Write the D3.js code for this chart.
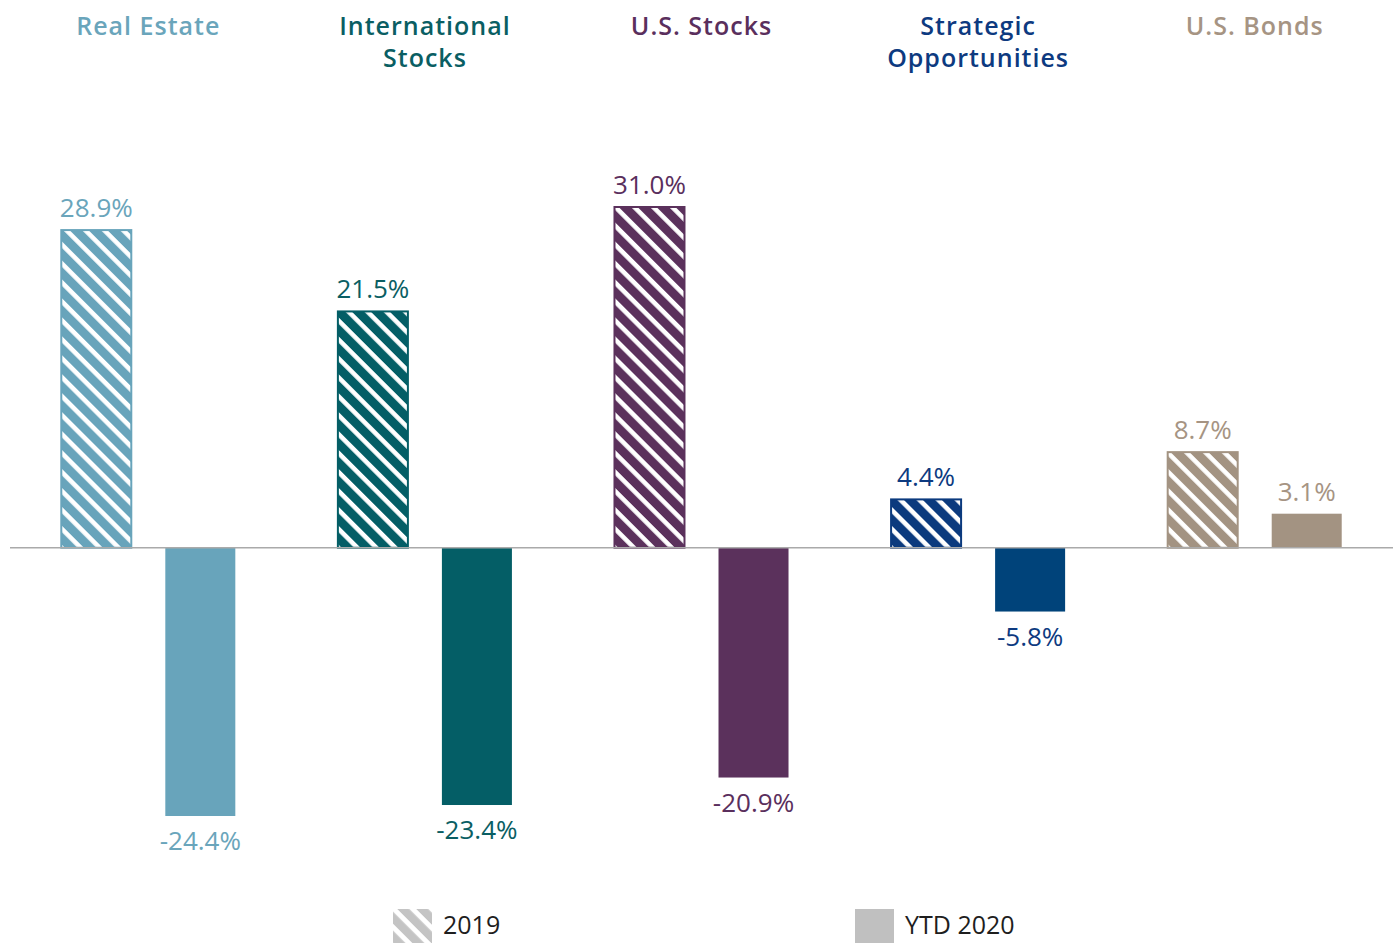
<!DOCTYPE html>
<html>
<head>
<meta charset="utf-8">
<script src="https://cdn.jsdelivr.net/npm/d3@7"></script>
<style>
  html, body { margin: 0; padding: 0; background: #fff; }
  svg { display: block; font-family: "Open Sans", "Noto Sans", sans-serif; }
</style>
</head>
<body>
<div id="chart"></div>
<script>
// Data
const categories = ['Real Estate', 'International Stocks', 'U.S. Stocks', 'Strategic Opportunities', 'U.S. Bonds'];
const titleLines = [['Real Estate'], ['International', 'Stocks'], ['U.S. Stocks'], ['Strategic', 'Opportunities'], ['U.S. Bonds']];
const values2019 = [28.9, 21.5, 31.0, 4.4, 8.7];
const valuesYTD2020 = [-24.4, -23.4, -20.9, -5.8, 3.1];
const seriesNames = ['2019', 'YTD 2020'];
const barColors = ['#68a4bb', '#045e66', '#5b315c', '#0b3a7e', '#a39382'];
const ytdColors = ['#68a4bb', '#045e66', '#5b315c', '#00437a', '#a39382'];
const titleColors = ['#6aa5bb', '#0a5e63', '#5a2f5d', '#0d3a80', '#a69483'];

const W = 1397, H = 943;
const svg = d3.select('#chart').append('svg')
    .attr('width', W)
    .attr('height', H);

const defs = svg.append('defs');

function hatch(id, color, size, stripe) {
    const p = defs.append('pattern')
        .attr('id', id)
        .attr('patternUnits', 'userSpaceOnUse')
        .attr('width', size)
        .attr('height', size)
        .attr('patternTransform', 'rotate(45)');
    p.append('rect').attr('width', size).attr('height', size).attr('fill', color);
    p.append('rect').attr('y', 0).attr('width', size).attr('height', stripe).attr('fill', '#fff');
}

barColors.forEach((c, i) => hatch('hatch-' + i, c, 13.4, 4.6));
hatch('hatch-legend', '#c4c4c4', 13.4, 5);

const data = categories.map((c, i) => ({
    category: c,
    i,
    bars: [
        { series: '2019', value: values2019[i], i },
        { series: 'YTD 2020', value: valuesYTD2020[i], i }
    ]
}));

const x0 = d3.scaleBand()
    .domain(categories)
    .range([10, 1393])
    .padding(0);

const x1 = d3.scaleBand()
    .domain(seriesNames)
    .range([0, x0.bandwidth()])
    .paddingInner(0.327)
    .paddingOuter(0.493);

const y = d3.scaleLinear()
    .domain([-24.4, 31.0])
    .range([816, 207]);

// Titles
const titles = svg.append('g').attr('class', 'titles');
data.forEach(d => {
    const cx = x0(d.category) + x0.bandwidth() / 2;
    const t = titles.append('text')
        .attr('x', cx)
        .attr('y', 35)
        .attr('text-anchor', 'middle')
        .attr('fill', titleColors[d.i])
        .style('font-size', '25px')
        .style('font-weight', 600)
        .style('letter-spacing', '1px');
    titleLines[d.i].forEach((line, k) => {
        t.append('tspan')
            .attr('x', cx)
            .attr('dy', k === 0 ? 0 : 32)
            .text(line);
    });
});

// Bars
const groups = svg.selectAll('.group')
    .data(data)
    .enter().append('g')
    .attr('class', 'group')
    .attr('transform', d => `translate(${x0(d.category)},0)`);

groups.selectAll('rect')
    .data(d => d.bars)
    .enter().append('rect')
    .attr('x', d => x1(d.series))
    .attr('y', d => y(Math.max(0, d.value)))
    .attr('width', x1.bandwidth())
    .attr('height', d => Math.abs(y(d.value) - y(0)))
    .attr('fill', d => d.series === '2019' ? `url(#hatch-${d.i})` : ytdColors[d.i])
    .attr('stroke', d => d.series === '2019' ? barColors[d.i] : 'none')
    .attr('stroke-width', 2);

groups.selectAll('.value-label')
    .data(d => d.bars)
    .enter().append('text')
    .attr('class', 'value-label')
    .attr('x', d => x1(d.series) + x1.bandwidth() / 2)
    .attr('y', d => d.value >= 0 ? y(d.value) - 13 : y(d.value) + 34)
    .attr('text-anchor', 'middle')
    .attr('fill', d => titleColors[d.i])
    .style('font-size', '26px')
    .style('font-weight', 400)
    .text(d => d.value.toFixed(1) + '%');

// Zero line
svg.append('line')
    .attr('x1', 10)
    .attr('x2', 1393)
    .attr('y1', y(0))
    .attr('y2', y(0))
    .attr('stroke', '#aaaaaa')
    .attr('stroke-width', 1.5);

// Legend
const legend = svg.append('g').attr('class', 'legend');
const legendItems = [
    { label: seriesNames[0], x: 393, fill: 'url(#hatch-legend)' },
    { label: seriesNames[1], x: 855, fill: '#c0c0c0' }
];
legendItems.forEach(l => {
    legend.append('rect')
        .attr('x', l.x)
        .attr('y', 909)
        .attr('width', 39)
        .attr('height', 40)
        .attr('fill', l.fill);
    legend.append('text')
        .attr('x', l.x + 50)
        .attr('y', 934)
        .attr('fill', '#1e1e1e')
        .style('font-size', '25px')
        .text(l.label);
});
</script>
</body>
</html>
